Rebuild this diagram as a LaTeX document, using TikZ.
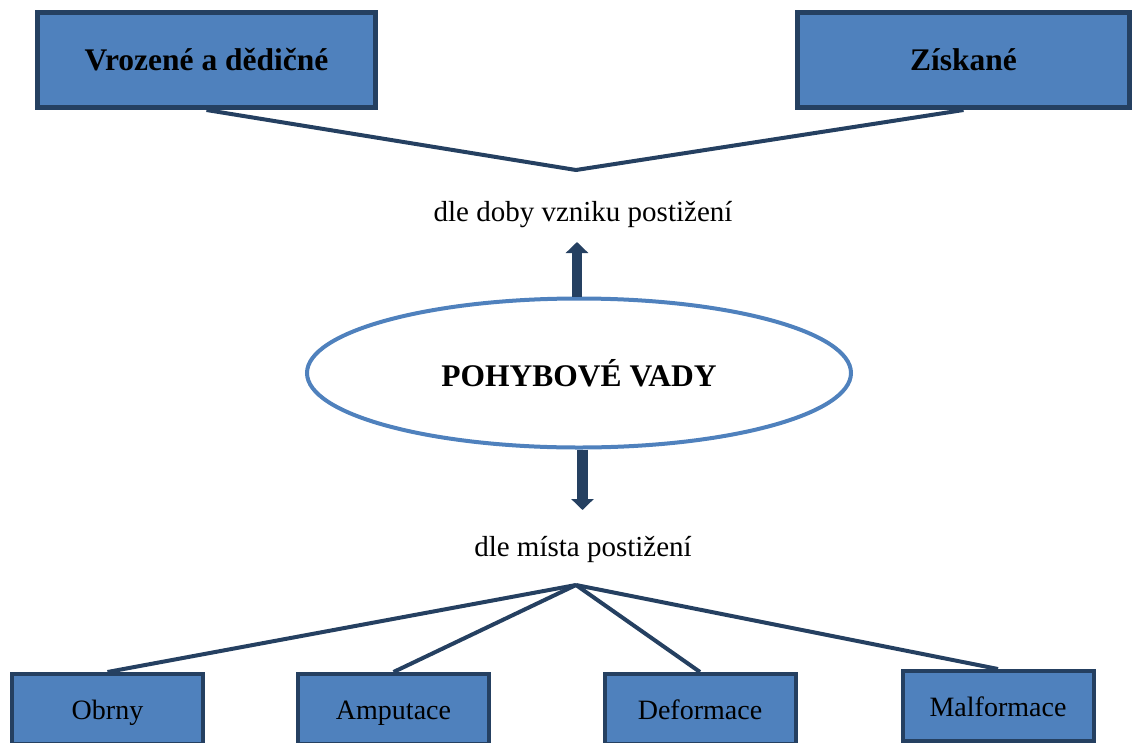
\documentclass[tikz,border=0pt]{standalone}
\usepackage{fontspec}
\setmainfont{Liberation Serif}
\usepackage{tikz}
\usetikzlibrary{arrows.meta, positioning, shapes.geometric}
\definecolor{boxfill}{HTML}{4F81BD}
\definecolor{boxline}{HTML}{254061}
\definecolor{ringline}{HTML}{4F81BD}

\begin{document}
\begin{tikzpicture}[
    x=1pt, y=-1pt,
    top/.style={draw=boxline, line width=5pt, fill=boxfill, inner sep=0pt,
                font=\fontsize{31.5}{36}\selectfont\bfseries},
    leaf/.style={draw=boxline, line width=4pt, fill=boxfill, inner sep=0pt,
                 minimum width=191pt, minimum height=70pt,
                 text height=20pt, text depth=0pt,
                 font=\fontsize{28}{32}\selectfont},
    hub/.style={ellipse, draw=ringline, line width=4pt, fill=white, inner sep=0pt,
                minimum width=544pt, minimum height=149pt,
                font=\fontsize{31.5}{36}\selectfont\bfseries},
    lbl/.style={font=\fontsize{29}{33}\selectfont, inner sep=0pt},
    ed/.style={draw=boxline, line width=4pt},
    big/.style={draw=boxline, line width=10.5pt,
                -{Triangle[width=22pt, length=11pt]}, color=boxline}
  ]
    \useasboundingbox (0,0) rectangle (1135,742);
    \node[top, minimum width=338pt, minimum height=95pt] (vroz) at (206.5,60) {Vrozené a dědičné};
    \node[top, minimum width=332pt, minimum height=95pt] (zisk) at (963.5,60) {Získané};
    \coordinate (tj) at (576,170);
    \draw[ed] (vroz.south) -- (tj) -- (zisk.south);
    \node[lbl] (doby) at (583,215) {dle doby vzniku postižení};
    \node[hub] (pv) at (579,373) {POHYBOVÉ VADY};
    \coordinate (uptip) at (577,242);
    \draw[big] (uptip |- pv.north) -- (uptip);
    \coordinate (dntip) at (582.5,510);
    \draw[big] (dntip |- pv.south) -- (dntip);
    \node[lbl] (mista) at (583,549) {dle místa postižení};
    \coordinate (bj) at (576,585);
    \node[leaf] (obr) at (107.5,709) {Obrny};
    \node[leaf] (amp) at (393.5,709) {Amputace};
    \node[leaf] (def) at (700,709) {Deformace};
    \node[leaf] (mal) at (998,706) {Malformace};
    \draw[ed] (bj) -- (obr.north); \draw[ed] (bj) -- (amp.north);
    \draw[ed] (bj) -- (def.north); \draw[ed] (bj) -- (mal.north);
  \end{tikzpicture}
\end{document}
